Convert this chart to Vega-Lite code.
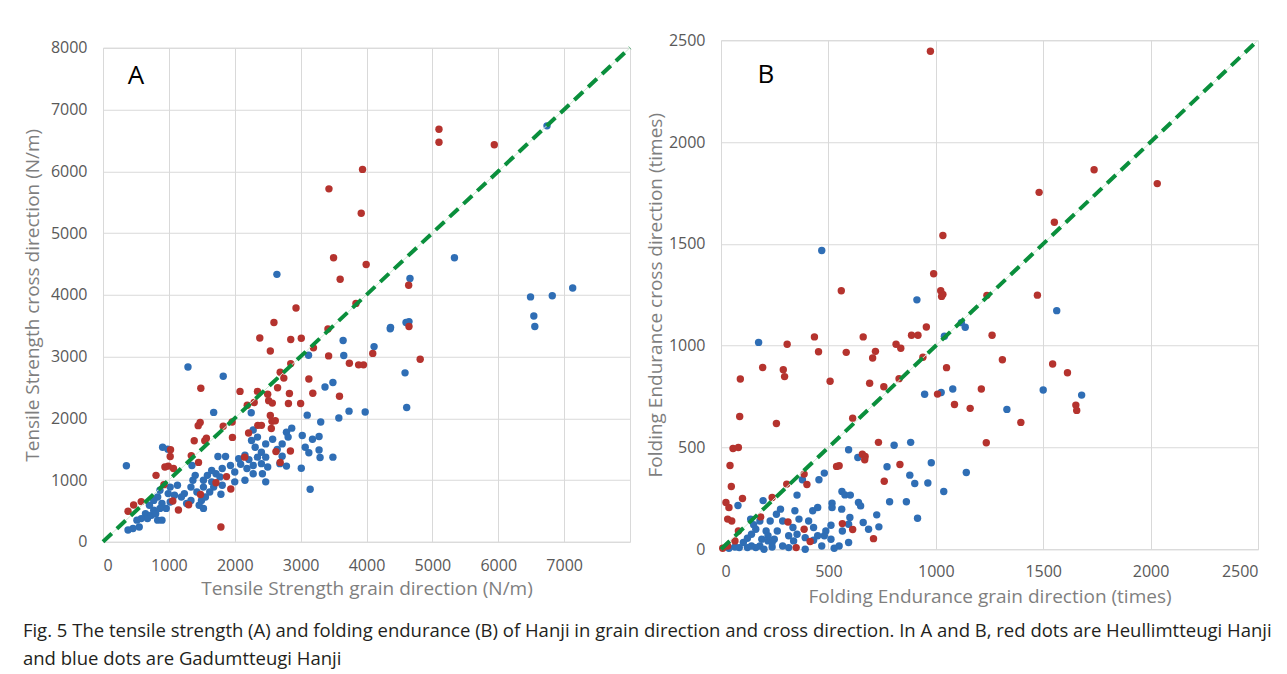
{
  "$schema": "https://vega.github.io/schema/vega-lite/v6.json",
  "background": "white",
  "padding": {"left": 22, "top": 31, "right": 5, "bottom": 5},
  "spacing": 6,
  "center": true,
  "config": {
    "view": {"stroke": "#d9d9d9"},
    "axis": {
      "grid": true, "gridColor": "#d9d9d9", "domain": false, "ticks": false, "format": "d",
      "labelFont": "Open Sans", "labelFontSize": 16, "labelColor": "#595959", "labelPadding": 16,
      "titleFont": "Open Sans", "titleFontSize": 19, "titleColor": "#7f7f7f", "titleFontWeight": "normal"
    }
  },
  "title": {
    "text": ["Fig. 5  The tensile strength (A) and folding endurance (B) of Hanji in grain direction and cross direction. In A and B, red dots are Heullimtteugi Hanji", "and blue dots are Gadumtteugi Hanji"],
    "orient": "bottom", "anchor": "start", "offset": 15,
    "font": "Open Sans", "fontSize": 18.5, "fontWeight": "normal", "color": "#231f20", "lineHeight": 28
  },
  "datasets": {
    "tensile": [
      {"grain": 6740, "cross": 6735, "type": "Gadumtteugi"}, {"grain": 5335, "cross": 4600, "type": "Gadumtteugi"}, {"grain": 2640, "cross": 4330, "type": "Gadumtteugi"}, {"grain": 4660, "cross": 4265, "type": "Gadumtteugi"}, {"grain": 7130, "cross": 4110, "type": "Gadumtteugi"}, {"grain": 6490, "cross": 3965, "type": "Gadumtteugi"}, {"grain": 6820, "cross": 3985, "type": "Gadumtteugi"}, {"grain": 6540, "cross": 3655, "type": "Gadumtteugi"}, {"grain": 6555, "cross": 3485, "type": "Gadumtteugi"}, {"grain": 4365, "cross": 3470, "type": "Gadumtteugi"}, {"grain": 4600, "cross": 3550, "type": "Gadumtteugi"}, {"grain": 4645, "cross": 3565, "type": "Gadumtteugi"}, {"grain": 1290, "cross": 2830, "type": "Gadumtteugi"}, {"grain": 1825, "cross": 2680, "type": "Gadumtteugi"}, {"grain": 355, "cross": 1230, "type": "Gadumtteugi"}, {"grain": 905, "cross": 1530, "type": "Gadumtteugi"}, {"grain": 985, "cross": 1500, "type": "Gadumtteugi"}, {"grain": 1680, "cross": 2095, "type": "Gadumtteugi"}, {"grain": 2250, "cross": 2090, "type": "Gadumtteugi"}, {"grain": 3120, "cross": 3020, "type": "Gadumtteugi"}, {"grain": 3645, "cross": 3260, "type": "Gadumtteugi"}, {"grain": 3655, "cross": 3015, "type": "Gadumtteugi"}, {"grain": 4115, "cross": 3160, "type": "Gadumtteugi"}, {"grain": 4360, "cross": 3450, "type": "Gadumtteugi"}, {"grain": 4585, "cross": 2735, "type": "Gadumtteugi"}, {"grain": 4610, "cross": 2175, "type": "Gadumtteugi"}, {"grain": 3490, "cross": 2580, "type": "Gadumtteugi"}, {"grain": 3370, "cross": 2505, "type": "Gadumtteugi"}, {"grain": 3100, "cross": 2050, "type": "Gadumtteugi"}, {"grain": 3305, "cross": 1940, "type": "Gadumtteugi"}, {"grain": 3580, "cross": 2005, "type": "Gadumtteugi"}, {"grain": 3735, "cross": 2115, "type": "Gadumtteugi"}, {"grain": 3980, "cross": 2100, "type": "Gadumtteugi"}, {"grain": 3025, "cross": 1720, "type": "Gadumtteugi"}, {"grain": 3280, "cross": 1705, "type": "Gadumtteugi"}, {"grain": 3180, "cross": 1660, "type": "Gadumtteugi"}, {"grain": 3070, "cross": 1530, "type": "Gadumtteugi"}, {"grain": 3125, "cross": 1440, "type": "Gadumtteugi"}, {"grain": 3280, "cross": 1485, "type": "Gadumtteugi"}, {"grain": 3295, "cross": 1365, "type": "Gadumtteugi"}, {"grain": 3490, "cross": 1370, "type": "Gadumtteugi"}, {"grain": 3010, "cross": 1190, "type": "Gadumtteugi"}, {"grain": 3145, "cross": 850, "type": "Gadumtteugi"}, {"grain": 2865, "cross": 1840, "type": "Gadumtteugi"}, {"grain": 2785, "cross": 1775, "type": "Gadumtteugi"}, {"grain": 2810, "cross": 1695, "type": "Gadumtteugi"}, {"grain": 2720, "cross": 1585, "type": "Gadumtteugi"}, {"grain": 2645, "cross": 1495, "type": "Gadumtteugi"}, {"grain": 2720, "cross": 1385, "type": "Gadumtteugi"}, {"grain": 2785, "cross": 1225, "type": "Gadumtteugi"}, {"grain": 2685, "cross": 1265, "type": "Gadumtteugi"}, {"grain": 2575, "cross": 1660, "type": "Gadumtteugi"}, {"grain": 2470, "cross": 1585, "type": "Gadumtteugi"}, {"grain": 2345, "cross": 1695, "type": "Gadumtteugi"}, {"grain": 2280, "cross": 1810, "type": "Gadumtteugi"}, {"grain": 2255, "cross": 1640, "type": "Gadumtteugi"}, {"grain": 2310, "cross": 1530, "type": "Gadumtteugi"}, {"grain": 2405, "cross": 1450, "type": "Gadumtteugi"}, {"grain": 2345, "cross": 1370, "type": "Gadumtteugi"}, {"grain": 2215, "cross": 1330, "type": "Gadumtteugi"}, {"grain": 2155, "cross": 1400, "type": "Gadumtteugi"}, {"grain": 2060, "cross": 1345, "type": "Gadumtteugi"}, {"grain": 2090, "cross": 1255, "type": "Gadumtteugi"}, {"grain": 2185, "cross": 1185, "type": "Gadumtteugi"}, {"grain": 2280, "cross": 1235, "type": "Gadumtteugi"}, {"grain": 2405, "cross": 1265, "type": "Gadumtteugi"}, {"grain": 2470, "cross": 1370, "type": "Gadumtteugi"}, {"grain": 2500, "cross": 1210, "type": "Gadumtteugi"}, {"grain": 2420, "cross": 1100, "type": "Gadumtteugi"}, {"grain": 2280, "cross": 1100, "type": "Gadumtteugi"}, {"grain": 2470, "cross": 970, "type": "Gadumtteugi"}, {"grain": 2155, "cross": 995, "type": "Gadumtteugi"}, {"grain": 2000, "cross": 1130, "type": "Gadumtteugi"}, {"grain": 1935, "cross": 1235, "type": "Gadumtteugi"}, {"grain": 1860, "cross": 1380, "type": "Gadumtteugi"}, {"grain": 1745, "cross": 1380, "type": "Gadumtteugi"}, {"grain": 1810, "cross": 1185, "type": "Gadumtteugi"}, {"grain": 1715, "cross": 1100, "type": "Gadumtteugi"}, {"grain": 1650, "cross": 1155, "type": "Gadumtteugi"}, {"grain": 1585, "cross": 1075, "type": "Gadumtteugi"}, {"grain": 1525, "cross": 995, "type": "Gadumtteugi"}, {"grain": 1650, "cross": 970, "type": "Gadumtteugi"}, {"grain": 1775, "cross": 1050, "type": "Gadumtteugi"}, {"grain": 1810, "cross": 915, "type": "Gadumtteugi"}, {"grain": 1680, "cross": 885, "type": "Gadumtteugi"}, {"grain": 1620, "cross": 805, "type": "Gadumtteugi"}, {"grain": 1555, "cross": 725, "type": "Gadumtteugi"}, {"grain": 1495, "cross": 670, "type": "Gadumtteugi"}, {"grain": 1525, "cross": 540, "type": "Gadumtteugi"}, {"grain": 1460, "cross": 590, "type": "Gadumtteugi"}, {"grain": 1790, "cross": 770, "type": "Gadumtteugi"}, {"grain": 2000, "cross": 970, "type": "Gadumtteugi"}, {"grain": 1335, "cross": 885, "type": "Gadumtteugi"}, {"grain": 1365, "cross": 995, "type": "Gadumtteugi"}, {"grain": 1400, "cross": 1075, "type": "Gadumtteugi"}, {"grain": 1350, "cross": 1235, "type": "Gadumtteugi"}, {"grain": 1335, "cross": 670, "type": "Gadumtteugi"}, {"grain": 1270, "cross": 620, "type": "Gadumtteugi"}, {"grain": 1190, "cross": 725, "type": "Gadumtteugi"}, {"grain": 1130, "cross": 915, "type": "Gadumtteugi"}, {"grain": 1085, "cross": 755, "type": "Gadumtteugi"}, {"grain": 1020, "cross": 645, "type": "Gadumtteugi"}, {"grain": 960, "cross": 540, "type": "Gadumtteugi"}, {"grain": 895, "cross": 620, "type": "Gadumtteugi"}, {"grain": 830, "cross": 725, "type": "Gadumtteugi"}, {"grain": 865, "cross": 835, "type": "Gadumtteugi"}, {"grain": 770, "cross": 670, "type": "Gadumtteugi"}, {"grain": 770, "cross": 510, "type": "Gadumtteugi"}, {"grain": 705, "cross": 590, "type": "Gadumtteugi"}, {"grain": 645, "cross": 455, "type": "Gadumtteugi"}, {"grain": 675, "cross": 375, "type": "Gadumtteugi"}, {"grain": 735, "cross": 430, "type": "Gadumtteugi"}, {"grain": 830, "cross": 350, "type": "Gadumtteugi"}, {"grain": 895, "cross": 350, "type": "Gadumtteugi"}, {"grain": 580, "cross": 375, "type": "Gadumtteugi"}, {"grain": 550, "cross": 240, "type": "Gadumtteugi"}, {"grain": 455, "cross": 215, "type": "Gadumtteugi"}, {"grain": 380, "cross": 190, "type": "Gadumtteugi"}, {"grain": 515, "cross": 350, "type": "Gadumtteugi"}, {"grain": 800, "cross": 455, "type": "Gadumtteugi"}, {"grain": 865, "cross": 540, "type": "Gadumtteugi"}, {"grain": 990, "cross": 780, "type": "Gadumtteugi"}, {"grain": 1020, "cross": 885, "type": "Gadumtteugi"}, {"grain": 1235, "cross": 780, "type": "Gadumtteugi"}, {"grain": 1425, "cross": 805, "type": "Gadumtteugi"}, {"grain": 1525, "cross": 885, "type": "Gadumtteugi"},
      {"grain": 5100, "cross": 6680, "type": "Heullimtteugi"}, {"grain": 5100, "cross": 6470, "type": "Heullimtteugi"}, {"grain": 5940, "cross": 6430, "type": "Heullimtteugi"}, {"grain": 3940, "cross": 6030, "type": "Heullimtteugi"}, {"grain": 3430, "cross": 5715, "type": "Heullimtteugi"}, {"grain": 3920, "cross": 5320, "type": "Heullimtteugi"}, {"grain": 3500, "cross": 4600, "type": "Heullimtteugi"}, {"grain": 3995, "cross": 4490, "type": "Heullimtteugi"}, {"grain": 3600, "cross": 4250, "type": "Heullimtteugi"}, {"grain": 4640, "cross": 4155, "type": "Heullimtteugi"}, {"grain": 2930, "cross": 3785, "type": "Heullimtteugi"}, {"grain": 3840, "cross": 3860, "type": "Heullimtteugi"}, {"grain": 2595, "cross": 3550, "type": "Heullimtteugi"}, {"grain": 3415, "cross": 3445, "type": "Heullimtteugi"}, {"grain": 4645, "cross": 3485, "type": "Heullimtteugi"}, {"grain": 2380, "cross": 3300, "type": "Heullimtteugi"}, {"grain": 2850, "cross": 3275, "type": "Heullimtteugi"}, {"grain": 3010, "cross": 3295, "type": "Heullimtteugi"}, {"grain": 2540, "cross": 3090, "type": "Heullimtteugi"}, {"grain": 3195, "cross": 3140, "type": "Heullimtteugi"}, {"grain": 3425, "cross": 3010, "type": "Heullimtteugi"}, {"grain": 4095, "cross": 3050, "type": "Heullimtteugi"}, {"grain": 3740, "cross": 2890, "type": "Heullimtteugi"}, {"grain": 3880, "cross": 2865, "type": "Heullimtteugi"}, {"grain": 3955, "cross": 2865, "type": "Heullimtteugi"}, {"grain": 4815, "cross": 2955, "type": "Heullimtteugi"}, {"grain": 2850, "cross": 2885, "type": "Heullimtteugi"}, {"grain": 2690, "cross": 2745, "type": "Heullimtteugi"}, {"grain": 2745, "cross": 2650, "type": "Heullimtteugi"}, {"grain": 2650, "cross": 2495, "type": "Heullimtteugi"}, {"grain": 3125, "cross": 2635, "type": "Heullimtteugi"}, {"grain": 3185, "cross": 2405, "type": "Heullimtteugi"}, {"grain": 3590, "cross": 2355, "type": "Heullimtteugi"}, {"grain": 2080, "cross": 2435, "type": "Heullimtteugi"}, {"grain": 2345, "cross": 2435, "type": "Heullimtteugi"}, {"grain": 2500, "cross": 2390, "type": "Heullimtteugi"}, {"grain": 2515, "cross": 2285, "type": "Heullimtteugi"}, {"grain": 2570, "cross": 2245, "type": "Heullimtteugi"}, {"grain": 2830, "cross": 2400, "type": "Heullimtteugi"}, {"grain": 2815, "cross": 2240, "type": "Heullimtteugi"}, {"grain": 3000, "cross": 2240, "type": "Heullimtteugi"}, {"grain": 2190, "cross": 2210, "type": "Heullimtteugi"}, {"grain": 2295, "cross": 2255, "type": "Heullimtteugi"}, {"grain": 1485, "cross": 2485, "type": "Heullimtteugi"}, {"grain": 1445, "cross": 1880, "type": "Heullimtteugi"}, {"grain": 1475, "cross": 1930, "type": "Heullimtteugi"}, {"grain": 2540, "cross": 2045, "type": "Heullimtteugi"}, {"grain": 2565, "cross": 1950, "type": "Heullimtteugi"}, {"grain": 2555, "cross": 1835, "type": "Heullimtteugi"}, {"grain": 2615, "cross": 1960, "type": "Heullimtteugi"}, {"grain": 2350, "cross": 1885, "type": "Heullimtteugi"}, {"grain": 2405, "cross": 1885, "type": "Heullimtteugi"}, {"grain": 1960, "cross": 1940, "type": "Heullimtteugi"}, {"grain": 1825, "cross": 1870, "type": "Heullimtteugi"}, {"grain": 2210, "cross": 1760, "type": "Heullimtteugi"}, {"grain": 1965, "cross": 1690, "type": "Heullimtteugi"}, {"grain": 1385, "cross": 1635, "type": "Heullimtteugi"}, {"grain": 1545, "cross": 1635, "type": "Heullimtteugi"}, {"grain": 1570, "cross": 1675, "type": "Heullimtteugi"}, {"grain": 1025, "cross": 1490, "type": "Heullimtteugi"}, {"grain": 1020, "cross": 1380, "type": "Heullimtteugi"}, {"grain": 990, "cross": 1225, "type": "Heullimtteugi"}, {"grain": 940, "cross": 1210, "type": "Heullimtteugi"}, {"grain": 1070, "cross": 1185, "type": "Heullimtteugi"}, {"grain": 1340, "cross": 1395, "type": "Heullimtteugi"}, {"grain": 1450, "cross": 1285, "type": "Heullimtteugi"}, {"grain": 805, "cross": 1075, "type": "Heullimtteugi"}, {"grain": 925, "cross": 925, "type": "Heullimtteugi"}, {"grain": 1060, "cross": 660, "type": "Heullimtteugi"}, {"grain": 1300, "cross": 600, "type": "Heullimtteugi"}, {"grain": 1145, "cross": 515, "type": "Heullimtteugi"}, {"grain": 580, "cross": 650, "type": "Heullimtteugi"}, {"grain": 465, "cross": 595, "type": "Heullimtteugi"}, {"grain": 380, "cross": 495, "type": "Heullimtteugi"}, {"grain": 1480, "cross": 765, "type": "Heullimtteugi"}, {"grain": 1715, "cross": 955, "type": "Heullimtteugi"}, {"grain": 1875, "cross": 1055, "type": "Heullimtteugi"}, {"grain": 1940, "cross": 855, "type": "Heullimtteugi"}, {"grain": 2150, "cross": 1370, "type": "Heullimtteugi"}, {"grain": 2625, "cross": 1460, "type": "Heullimtteugi"}, {"grain": 2845, "cross": 1470, "type": "Heullimtteugi"}, {"grain": 2690, "cross": 1285, "type": "Heullimtteugi"}, {"grain": 1790, "cross": 240, "type": "Heullimtteugi"}
    ],
    "folding": [
      {"grain": 175, "cross": 1016, "type": "Gadumtteugi"}, {"grain": 1563, "cross": 1172, "type": "Gadumtteugi"}, {"grain": 1040, "cross": 1046, "type": "Gadumtteugi"}, {"grain": 1119, "cross": 1113, "type": "Gadumtteugi"}, {"grain": 1137, "cross": 1090, "type": "Gadumtteugi"}, {"grain": 469, "cross": 1467, "type": "Gadumtteugi"}, {"grain": 912, "cross": 1225, "type": "Gadumtteugi"}, {"grain": 948, "cross": 761, "type": "Gadumtteugi"}, {"grain": 1025, "cross": 770, "type": "Gadumtteugi"}, {"grain": 1079, "cross": 787, "type": "Gadumtteugi"}, {"grain": 1500, "cross": 782, "type": "Gadumtteugi"}, {"grain": 1679, "cross": 757, "type": "Gadumtteugi"}, {"grain": 1331, "cross": 687, "type": "Gadumtteugi"}, {"grain": 594, "cross": 489, "type": "Gadumtteugi"}, {"grain": 806, "cross": 511, "type": "Gadumtteugi"}, {"grain": 883, "cross": 525, "type": "Gadumtteugi"}, {"grain": 637, "cross": 451, "type": "Gadumtteugi"}, {"grain": 979, "cross": 425, "type": "Gadumtteugi"}, {"grain": 773, "cross": 405, "type": "Gadumtteugi"}, {"grain": 1142, "cross": 377, "type": "Gadumtteugi"}, {"grain": 879, "cross": 364, "type": "Gadumtteugi"}, {"grain": 902, "cross": 323, "type": "Gadumtteugi"}, {"grain": 963, "cross": 325, "type": "Gadumtteugi"}, {"grain": 1037, "cross": 284, "type": "Gadumtteugi"}, {"grain": 785, "cross": 233, "type": "Gadumtteugi"}, {"grain": 863, "cross": 233, "type": "Gadumtteugi"}, {"grain": 915, "cross": 152, "type": "Gadumtteugi"}, {"grain": 481, "cross": 374, "type": "Gadumtteugi"}, {"grain": 456, "cross": 341, "type": "Gadumtteugi"}, {"grain": 379, "cross": 341, "type": "Gadumtteugi"}, {"grain": 354, "cross": 266, "type": "Gadumtteugi"}, {"grain": 196, "cross": 239, "type": "Gadumtteugi"}, {"grain": 79, "cross": 215, "type": "Gadumtteugi"}, {"grain": 517, "cross": 226, "type": "Gadumtteugi"}, {"grain": 517, "cross": 205, "type": "Gadumtteugi"}, {"grain": 563, "cross": 284, "type": "Gadumtteugi"}, {"grain": 577, "cross": 267, "type": "Gadumtteugi"}, {"grain": 602, "cross": 266, "type": "Gadumtteugi"}, {"grain": 640, "cross": 230, "type": "Gadumtteugi"}, {"grain": 650, "cross": 213, "type": "Gadumtteugi"}, {"grain": 562, "cross": 197, "type": "Gadumtteugi"}, {"grain": 600, "cross": 156, "type": "Gadumtteugi"}, {"grain": 594, "cross": 123, "type": "Gadumtteugi"}, {"grain": 565, "cross": 90, "type": "Gadumtteugi"}, {"grain": 512, "cross": 118, "type": "Gadumtteugi"}, {"grain": 488, "cross": 90, "type": "Gadumtteugi"}, {"grain": 481, "cross": 66, "type": "Gadumtteugi"}, {"grain": 512, "cross": 49, "type": "Gadumtteugi"}, {"grain": 469, "cross": 16, "type": "Gadumtteugi"}, {"grain": 550, "cross": 16, "type": "Gadumtteugi"}, {"grain": 594, "cross": 33, "type": "Gadumtteugi"}, {"grain": 662, "cross": 131, "type": "Gadumtteugi"}, {"grain": 687, "cross": 98, "type": "Gadumtteugi"}, {"grain": 725, "cross": 169, "type": "Gadumtteugi"}, {"grain": 735, "cross": 110, "type": "Gadumtteugi"}, {"grain": 427, "cross": 189, "type": "Gadumtteugi"}, {"grain": 450, "cross": 205, "type": "Gadumtteugi"}, {"grain": 408, "cross": 139, "type": "Gadumtteugi"}, {"grain": 431, "cross": 107, "type": "Gadumtteugi"}, {"grain": 450, "cross": 66, "type": "Gadumtteugi"}, {"grain": 392, "cross": 57, "type": "Gadumtteugi"}, {"grain": 431, "cross": 44, "type": "Gadumtteugi"}, {"grain": 354, "cross": 74, "type": "Gadumtteugi"}, {"grain": 335, "cross": 107, "type": "Gadumtteugi"}, {"grain": 315, "cross": 66, "type": "Gadumtteugi"}, {"grain": 338, "cross": 41, "type": "Gadumtteugi"}, {"grain": 363, "cross": 148, "type": "Gadumtteugi"}, {"grain": 344, "cross": 189, "type": "Gadumtteugi"}, {"grain": 277, "cross": 197, "type": "Gadumtteugi"}, {"grain": 258, "cross": 172, "type": "Gadumtteugi"}, {"grain": 229, "cross": 139, "type": "Gadumtteugi"}, {"grain": 287, "cross": 139, "type": "Gadumtteugi"}, {"grain": 262, "cross": 90, "type": "Gadumtteugi"}, {"grain": 210, "cross": 90, "type": "Gadumtteugi"}, {"grain": 181, "cross": 139, "type": "Gadumtteugi"}, {"grain": 162, "cross": 98, "type": "Gadumtteugi"}, {"grain": 142, "cross": 74, "type": "Gadumtteugi"}, {"grain": 190, "cross": 49, "type": "Gadumtteugi"}, {"grain": 219, "cross": 41, "type": "Gadumtteugi"}, {"grain": 248, "cross": 49, "type": "Gadumtteugi"}, {"grain": 287, "cross": 16, "type": "Gadumtteugi"}, {"grain": 238, "cross": 11, "type": "Gadumtteugi"}, {"grain": 181, "cross": 16, "type": "Gadumtteugi"}, {"grain": 123, "cross": 8, "type": "Gadumtteugi"}, {"grain": 104, "cross": 33, "type": "Gadumtteugi"}, {"grain": 85, "cross": 8, "type": "Gadumtteugi"}, {"grain": 65, "cross": 11, "type": "Gadumtteugi"}, {"grain": 37, "cross": 5, "type": "Gadumtteugi"}, {"grain": 138, "cross": 148, "type": "Gadumtteugi"}, {"grain": 152, "cross": 120, "type": "Gadumtteugi"}, {"grain": 123, "cross": 54, "type": "Gadumtteugi"}, {"grain": 238, "cross": 33, "type": "Gadumtteugi"}, {"grain": 219, "cross": 66, "type": "Gadumtteugi"}, {"grain": 200, "cross": 0, "type": "Gadumtteugi"}, {"grain": 162, "cross": 8, "type": "Gadumtteugi"}, {"grain": 142, "cross": 16, "type": "Gadumtteugi"}, {"grain": 392, "cross": 0, "type": "Gadumtteugi"}, {"grain": 527, "cross": 5, "type": "Gadumtteugi"}, {"grain": 315, "cross": 8, "type": "Gadumtteugi"},
      {"grain": 975, "cross": 2446, "type": "Heullimtteugi"}, {"grain": 1737, "cross": 1864, "type": "Heullimtteugi"}, {"grain": 2031, "cross": 1796, "type": "Heullimtteugi"}, {"grain": 1481, "cross": 1753, "type": "Heullimtteugi"}, {"grain": 1552, "cross": 1606, "type": "Heullimtteugi"}, {"grain": 1033, "cross": 1541, "type": "Heullimtteugi"}, {"grain": 990, "cross": 1353, "type": "Heullimtteugi"}, {"grain": 560, "cross": 1270, "type": "Heullimtteugi"}, {"grain": 1023, "cross": 1270, "type": "Heullimtteugi"}, {"grain": 1033, "cross": 1252, "type": "Heullimtteugi"}, {"grain": 1027, "cross": 1242, "type": "Heullimtteugi"}, {"grain": 1238, "cross": 1247, "type": "Heullimtteugi"}, {"grain": 1473, "cross": 1248, "type": "Heullimtteugi"}, {"grain": 956, "cross": 1092, "type": "Heullimtteugi"}, {"grain": 1262, "cross": 1051, "type": "Heullimtteugi"}, {"grain": 887, "cross": 1051, "type": "Heullimtteugi"}, {"grain": 917, "cross": 1051, "type": "Heullimtteugi"}, {"grain": 662, "cross": 1043, "type": "Heullimtteugi"}, {"grain": 435, "cross": 1043, "type": "Heullimtteugi"}, {"grain": 308, "cross": 1007, "type": "Heullimtteugi"}, {"grain": 815, "cross": 1007, "type": "Heullimtteugi"}, {"grain": 837, "cross": 987, "type": "Heullimtteugi"}, {"grain": 454, "cross": 970, "type": "Heullimtteugi"}, {"grain": 583, "cross": 967, "type": "Heullimtteugi"}, {"grain": 719, "cross": 972, "type": "Heullimtteugi"}, {"grain": 706, "cross": 939, "type": "Heullimtteugi"}, {"grain": 1310, "cross": 931, "type": "Heullimtteugi"}, {"grain": 1544, "cross": 910, "type": "Heullimtteugi"}, {"grain": 1613, "cross": 867, "type": "Heullimtteugi"}, {"grain": 1050, "cross": 892, "type": "Heullimtteugi"}, {"grain": 940, "cross": 943, "type": "Heullimtteugi"}, {"grain": 194, "cross": 893, "type": "Heullimtteugi"}, {"grain": 290, "cross": 882, "type": "Heullimtteugi"}, {"grain": 296, "cross": 848, "type": "Heullimtteugi"}, {"grain": 508, "cross": 825, "type": "Heullimtteugi"}, {"grain": 692, "cross": 815, "type": "Heullimtteugi"}, {"grain": 758, "cross": 798, "type": "Heullimtteugi"}, {"grain": 829, "cross": 838, "type": "Heullimtteugi"}, {"grain": 90, "cross": 836, "type": "Heullimtteugi"}, {"grain": 1212, "cross": 787, "type": "Heullimtteugi"}, {"grain": 1008, "cross": 762, "type": "Heullimtteugi"}, {"grain": 1087, "cross": 711, "type": "Heullimtteugi"}, {"grain": 1160, "cross": 692, "type": "Heullimtteugi"}, {"grain": 1652, "cross": 708, "type": "Heullimtteugi"}, {"grain": 1656, "cross": 682, "type": "Heullimtteugi"}, {"grain": 1396, "cross": 623, "type": "Heullimtteugi"}, {"grain": 1235, "cross": 523, "type": "Heullimtteugi"}, {"grain": 87, "cross": 652, "type": "Heullimtteugi"}, {"grain": 258, "cross": 618, "type": "Heullimtteugi"}, {"grain": 613, "cross": 644, "type": "Heullimtteugi"}, {"grain": 733, "cross": 525, "type": "Heullimtteugi"}, {"grain": 81, "cross": 500, "type": "Heullimtteugi"}, {"grain": 56, "cross": 495, "type": "Heullimtteugi"}, {"grain": 42, "cross": 411, "type": "Heullimtteugi"}, {"grain": 48, "cross": 308, "type": "Heullimtteugi"}, {"grain": 23, "cross": 230, "type": "Heullimtteugi"}, {"grain": 37, "cross": 205, "type": "Heullimtteugi"}, {"grain": 31, "cross": 148, "type": "Heullimtteugi"}, {"grain": 50, "cross": 139, "type": "Heullimtteugi"}, {"grain": 100, "cross": 249, "type": "Heullimtteugi"}, {"grain": 81, "cross": 90, "type": "Heullimtteugi"}, {"grain": 65, "cross": 41, "type": "Heullimtteugi"}, {"grain": 31, "cross": 16, "type": "Heullimtteugi"}, {"grain": 8, "cross": 5, "type": "Heullimtteugi"}, {"grain": 238, "cross": 254, "type": "Heullimtteugi"}, {"grain": 185, "cross": 159, "type": "Heullimtteugi"}, {"grain": 312, "cross": 134, "type": "Heullimtteugi"}, {"grain": 350, "cross": 8, "type": "Heullimtteugi"}, {"grain": 387, "cross": 98, "type": "Heullimtteugi"}, {"grain": 400, "cross": 318, "type": "Heullimtteugi"}, {"grain": 387, "cross": 369, "type": "Heullimtteugi"}, {"grain": 415, "cross": 38, "type": "Heullimtteugi"}, {"grain": 538, "cross": 407, "type": "Heullimtteugi"}, {"grain": 550, "cross": 410, "type": "Heullimtteugi"}, {"grain": 658, "cross": 467, "type": "Heullimtteugi"}, {"grain": 671, "cross": 456, "type": "Heullimtteugi"}, {"grain": 669, "cross": 439, "type": "Heullimtteugi"}, {"grain": 833, "cross": 416, "type": "Heullimtteugi"}, {"grain": 760, "cross": 334, "type": "Heullimtteugi"}, {"grain": 565, "cross": 126, "type": "Heullimtteugi"}, {"grain": 613, "cross": 97, "type": "Heullimtteugi"}, {"grain": 710, "cross": 52, "type": "Heullimtteugi"}, {"grain": 306, "cross": 320, "type": "Heullimtteugi"}
    ],
    "diagA": [{"grain": 0, "cross": 0}, {"grain": 8000, "cross": 8000}],
    "diagB": [{"grain": 0, "cross": 0}, {"grain": 2500, "cross": 2500}],
    "labelA": [{"grain": 500, "cross": 7550, "label": "A"}],
    "labelB": [{"grain": 209, "cross": 2328, "label": "B"}]
  },
  "hconcat": [
    {
      "width": 527, "height": 494,
      "encoding": {
        "x": {"field": "grain", "type": "quantitative", "scale": {"domain": [0, 8000], "nice": false}, "axis": {"title": "Tensile Strength grain direction (N/m)", "values": [0, 1000, 2000, 3000, 4000, 5000, 6000, 7000], "titlePadding": 6}},
        "y": {"field": "cross", "type": "quantitative", "scale": {"domain": [0, 8000], "nice": false}, "axis": {"title": "Tensile Strength cross direction (N/m)", "values": [0, 1000, 2000, 3000, 4000, 5000, 6000, 7000, 8000], "titlePadding": 8}}
      },
      "layer": [
        {"data": {"name": "tensile"}, "mark": {"type": "circle", "size": 55, "opacity": 1},
         "encoding": {"color": {"field": "type", "type": "nominal", "scale": {"domain": ["Heullimtteugi", "Gadumtteugi"], "range": ["#b5332e", "#2f6eb5"]}, "legend": null}}},
        {"data": {"name": "diagA"}, "mark": {"type": "line", "color": "#cdebd3", "strokeWidth": 1}},
        {"data": {"name": "diagA"}, "mark": {"type": "line", "color": "#0a8f3c", "strokeWidth": 4, "strokeDash": [12, 7]}},
        {"data": {"name": "labelA"}, "mark": {"type": "text", "font": "Open Sans", "fontSize": 26, "color": "#000000", "align": "center", "baseline": "middle"}, "encoding": {"text": {"field": "label"}}}
      ]
    },
    {
      "width": 537, "height": 509,
      "encoding": {
        "x": {"field": "grain", "type": "quantitative", "scale": {"domain": [0, 2500], "nice": false}, "axis": {"title": "Folding Endurance grain direction (times)", "values": [0, 500, 1000, 1500, 2000, 2500], "labelPadding": 14, "titlePadding": 8}},
        "y": {"field": "cross", "type": "quantitative", "scale": {"domain": [0, 2500], "nice": false}, "axis": {"title": "Folding Endurance cross direction (times)", "values": [0, 500, 1000, 1500, 2000, 2500], "titlePadding": 3}}
      },
      "layer": [
        {"data": {"name": "folding"}, "mark": {"type": "circle", "size": 55, "opacity": 1},
         "encoding": {"color": {"field": "type", "type": "nominal", "scale": {"domain": ["Heullimtteugi", "Gadumtteugi"], "range": ["#b5332e", "#2f6eb5"]}, "legend": null}}},
        {"data": {"name": "diagB"}, "mark": {"type": "line", "color": "#cdebd3", "strokeWidth": 1}},
        {"data": {"name": "diagB"}, "mark": {"type": "line", "color": "#0a8f3c", "strokeWidth": 4, "strokeDash": [12, 7]}},
        {"data": {"name": "labelB"}, "mark": {"type": "text", "font": "Open Sans", "fontSize": 26, "color": "#000000", "align": "center", "baseline": "middle"}, "encoding": {"text": {"field": "label"}}}
      ]
    }
  ]
}
